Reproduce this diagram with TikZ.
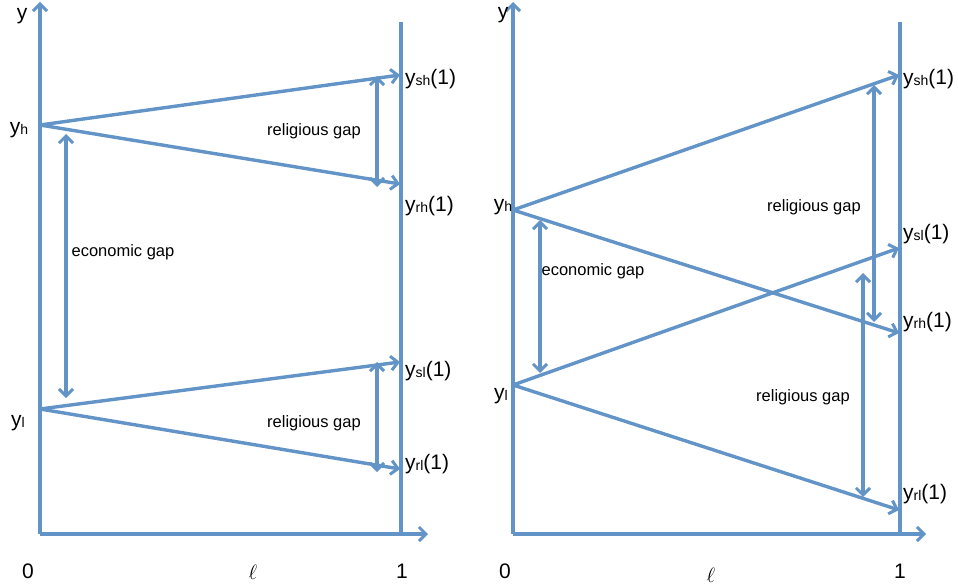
\documentclass[tikz,border=0pt]{standalone}
\usepackage{fontspec}
\setmainfont{Liberation Sans}
\usetikzlibrary{arrows.meta}
\definecolor{lineblue}{RGB}{98,148,200}
\newcommand{\lab}[2]{y\raisebox{-1.5pt}{\fontsize{14}{14}\selectfont #1}#2}
\tikzset{
  ln/.style={draw=lineblue, line width=3.4pt},
  tip/.style={},
  arr/.style={ln, -{Straight Barb[length=7pt,width=14pt,line width=3pt]}},
  darr/.style={ln, {Straight Barb[length=7pt,width=14pt,line width=3pt]}-{Straight Barb[length=7pt,width=14pt,line width=3pt]}},
  big/.style={font=\fontsize{21}{23}\selectfont, inner sep=0pt},
  gap/.style={font=\fontsize{16.5}{18}\selectfont, inner sep=0pt}
}
\begin{document}
\begin{tikzpicture}[x=1pt,y=-1pt]
\useasboundingbox (0,0) rectangle (958,586);
% ---------- left panel ----------
\coordinate (LO) at (40,534);
\coordinate (LYtop) at (40,2);
\coordinate (LXend) at (428,534);
\coordinate (LVtop) at (401,22);
\coordinate (LVbot) at (401,534);
\coordinate (Lh) at (40,125);
\coordinate (Ll) at (40,409);
\coordinate (Lsh) at (400,75);
\coordinate (Lrh) at (400,184);
\coordinate (Lsl) at (400,362);
\coordinate (Lrl) at (400,469);
\coordinate (LRg1a) at (377,76);
\coordinate (LRg1b) at (377,187);
\coordinate (LRg2a) at (377,362);
\coordinate (LRg2b) at (377,472);
\coordinate (LEga) at (66,134);
\coordinate (LEgb) at (66,398);
\draw[ln] (LVtop) -- (LVbot);
\draw[arr] (LO) -- (LYtop);
\draw[arr] (LO) -- (LXend);
\draw[arr] (Lh) -- (Lsh);
\draw[arr] (Lh) -- (Lrh);
\draw[arr] (Ll) -- (Lsl);
\draw[arr] (Ll) -- (Lrl);
\draw[darr] (LRg1a) -- (LRg1b);
\draw[darr] (LRg2a) -- (LRg2b);
\draw[darr] (LEga) -- (LEgb);
\node[big] (ly) at (22,16) {y};
\node[big] (lyh) at (19,130) {\lab{h}{}};
\node[big] (lyl) at (18,423) {\lab{l}{}};
\node[big, anchor=west] (lysh) at (405,79) {\lab{sh}{(1)}};
\node[big, anchor=west] (lyrh) at (405,206) {\lab{rh}{(1)}};
\node[big, anchor=west] (lysl) at (405,371) {\lab{sl}{(1)}};
\node[big, anchor=west] (lyrl) at (405,464) {\lab{rl}{(1)}};
\node[gap] (lrg1) at (314,131) {religious gap};
\node[gap] (lrg2) at (314,423) {religious gap};
\node[gap] (leg) at (123,252) {economic gap};
\node[big] (l0) at (28,571) {0};
\node[big] (lell) at (253,572) {$\ell$};
\node[big] (l1) at (402,571) {1};
% ---------- right panel ----------
\coordinate (RO) at (513,534);
\coordinate (RYtop) at (513,2);
\coordinate (RXend) at (926,534);
\coordinate (RVtop) at (900,22);
\coordinate (RVbot) at (900,534);
\coordinate (Rh) at (513,210);
\coordinate (Rl) at (513,385);
\coordinate (Rsh) at (899,75);
\coordinate (Rrh) at (899,333);
\coordinate (Rsl) at (899,248);
\coordinate (Rrl) at (899,510);
\coordinate (RRg1a) at (874,85);
\coordinate (RRg1b) at (874,322);
\coordinate (RRg2a) at (863,273);
\coordinate (RRg2b) at (863,497);
\coordinate (REga) at (540,220);
\coordinate (REgb) at (540,373);
\draw[ln] (RVtop) -- (RVbot);
\draw[arr] (RO) -- (RYtop);
\draw[arr] (RO) -- (RXend);
\draw[arr] (Rh) -- (Rsh);
\draw[arr] (Rh) -- (Rrh);
\draw[arr] (Rl) -- (Rsl);
\draw[arr] (Rl) -- (Rrl);
\draw[darr] (RRg1a) -- (RRg1b);
\draw[darr] (RRg2a) -- (RRg2b);
\draw[darr] (REga) -- (REgb);
\node[big] (ry) at (503,15) {y};
\node[big] (ryh) at (503,207) {\lab{h}{}};
\node[big] (ryl) at (501,396) {\lab{l}{}};
\node[big, anchor=west] (rysh) at (903,79) {\lab{sh}{(1)}};
\node[big, anchor=west] (rysl) at (903,234) {\lab{sl}{(1)}};
\node[big, anchor=west] (ryrh) at (903,322) {\lab{rh}{(1)}};
\node[big, anchor=west] (ryrl) at (903,494) {\lab{rl}{(1)}};
\node[gap] (rrg1) at (814,207) {religious gap};
\node[gap] (rrg2) at (803,397) {religious gap};
\node[gap] (reg) at (593,271) {economic gap};
\node[big] (r0) at (505,571) {0};
\node[big] (rell) at (711,575) {$\ell$};
\node[big] (r1) at (900,571) {1};
\end{tikzpicture}
\end{document}
